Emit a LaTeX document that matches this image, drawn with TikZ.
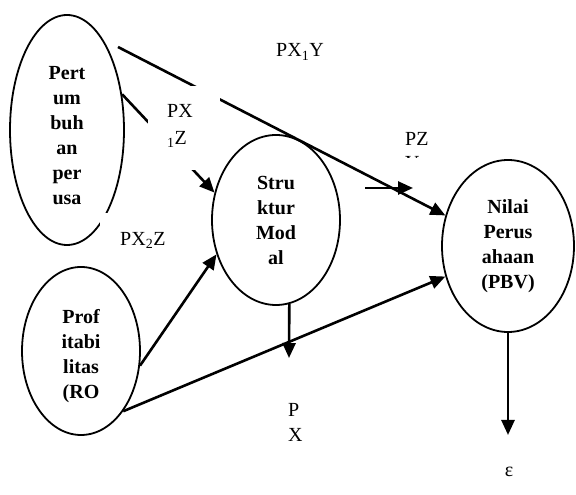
\documentclass[tikz,border=0pt]{standalone}
\usepackage{fontspec}
\setmainfont{Liberation Serif}
\usetikzlibrary{arrows.meta,shapes.geometric}
\tikzstyle{var}=[ellipse,draw=black,line width=1.8pt,inner sep=0pt,
  align=center,font=\bfseries\fontsize{20}{25}\selectfont]
\tikzstyle{lbl}=[inner sep=0pt,align=left,font=\fontsize{20}{25}\selectfont]
\tikzstyle{cover}=[fill=white,anchor=north west,align=left,
  font=\fontsize{20}{27}\selectfont,text height=14pt]
\tikzstyle{arr}=[line width=2.6pt,-{Triangle[length=15pt,width=13pt]}]
\tikzstyle{none}=[]

\begin{document}
\begin{tikzpicture}[x=20pt,y=20pt]
	\useasboundingbox (0, 0) rectangle (28.8, 24.75);
	\node [style=var,minimum width=114pt,minimum height=230pt,text height=149pt] (0) at (3.35, 18.25) {Pert\\um\\buh\\an\\per\\usa};
	\node [style=var,minimum width=128pt,minimum height=170pt] (1) at (13.8, 13.75) {Stru\\ktur\\Mod\\al};
	\node [style=var,minimum width=132pt,minimum height=172pt] (2) at (25.4, 12.45) {Nilai\\Perus\\ahaan\\(PBV)};
	\node [style=var,minimum width=118pt,minimum height=168pt,text height=99pt] (3) at (4.05, 7.2) {Prof\\itabi\\litas\\(RO};
	\coordinate (10) at (5.9, 22.4);
	\coordinate (11) at (18.25, 15.35);
	\coordinate (12) at (20.65, 15.35);
	\coordinate (13) at (14.45, 6.85);
	\coordinate (14) at (25.4, 3);
	\draw [style=arr] (10) to (2.154);
	\draw [style=arr] (0.33) to (1.156);
	\draw [style=arr] (11) to (12);
	\draw [style=arr] (3.-14) to (1.210);
	\draw [style=arr] (3.-55) to (2.206);
	\draw [style=arr] (1.-81) to (13);
	\draw [style=arr] (2.south) to (14);
	\node [style=lbl,anchor=center] (4) at (15, 22.15) {PX\textsubscript{1}Y};
	\node [style=cover,text width=34pt,inner xsep=19pt,inner ysep=17pt,text depth=36pt] (5) at (7.4, 20.45) {PX\\\textsubscript{1}Z};
	\node [style=cover,text width=56pt,inner xsep=20pt,inner ysep=18pt,text depth=7pt] (6) at (5, 14.1) {PX\textsubscript{2}Z};
	\begin{scope}
		\clip (19.75, 16.85) rectangle (22.25, 18.75);
		\node [style=lbl,anchor=north west,font=\fontsize{20}{24}\selectfont] (7) at (20.25, 18.15) {PZ\\Y};
	\end{scope}
	\node [style=lbl,anchor=north west] (8) at (14.4, 4.6) {P\\X};
	\node [style=lbl] (9) at (25.45, 1.15) {ε};
\end{tikzpicture}
\end{document}
